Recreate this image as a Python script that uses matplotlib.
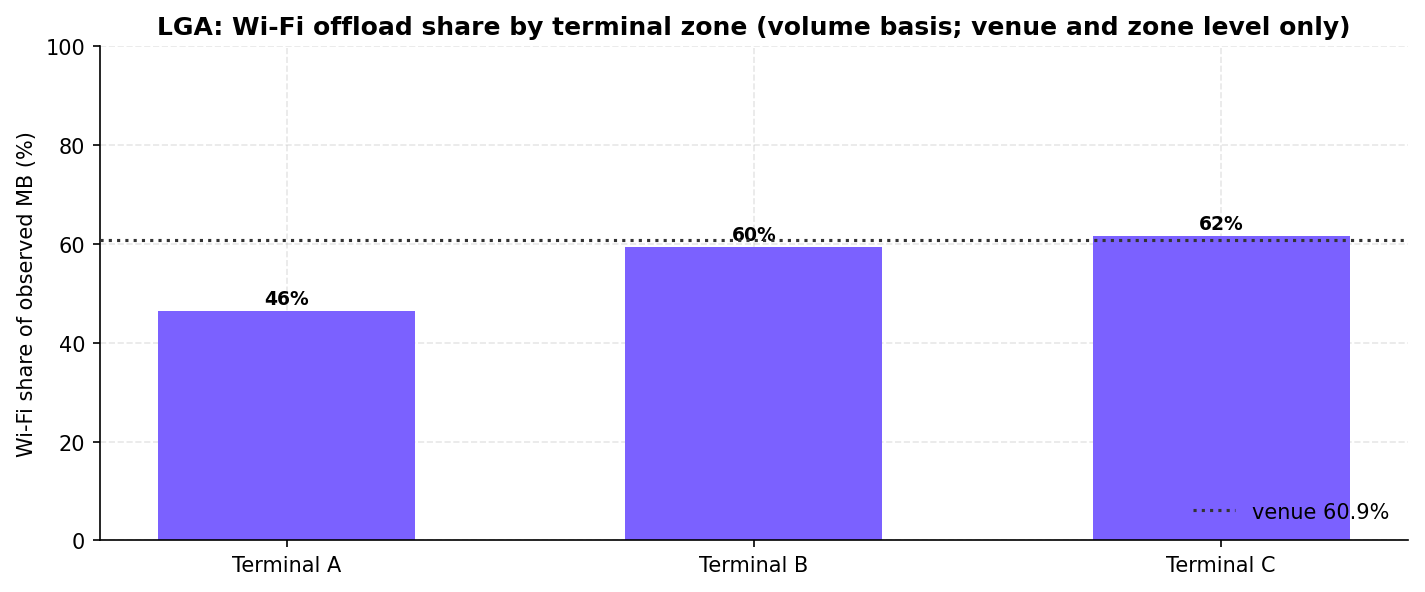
import matplotlib
matplotlib.use("Agg")
import matplotlib.pyplot as plt

zones = ["Terminal A", "Terminal B", "Terminal C"]
wifi_share = [46.5, 59.5, 61.7]
venue_share = 60.9

fig, ax = plt.subplots(figsize=(9.5, 3.953), dpi=150)
fig.subplots_adjust(left=0.07, right=0.988, top=0.92, bottom=0.087)

x = range(len(zones))
bars = ax.bar(x, wifi_share, width=0.55, color="#7B61FF", zorder=2)
for b, v in zip(bars, wifi_share):
    ax.text(b.get_x() + b.get_width() / 2, v + 0.5, f"{v:.0f}%",
            ha="center", va="bottom", fontsize=9, fontweight="bold")

ax.axhline(venue_share, color="#333333", linestyle=":", linewidth=1.5,
           label=f"venue {venue_share}%", zorder=3)

ax.set_xticks(list(x))
ax.set_xticklabels(zones)
ax.set_xlim(-0.4, 2.4)
ax.set_ylim(0, 100)
ax.set_ylabel("Wi-Fi share of observed MB (%)")
ax.set_title("LGA: Wi-Fi offload share by terminal zone (volume basis; venue and zone level only)",
             fontweight="bold")
ax.grid(True, linestyle="--", alpha=0.3, zorder=0)
ax.spines["top"].set_visible(False)
ax.spines["right"].set_visible(False)
ax.legend(loc="lower right", frameon=False)

fig.savefig("out.png")
